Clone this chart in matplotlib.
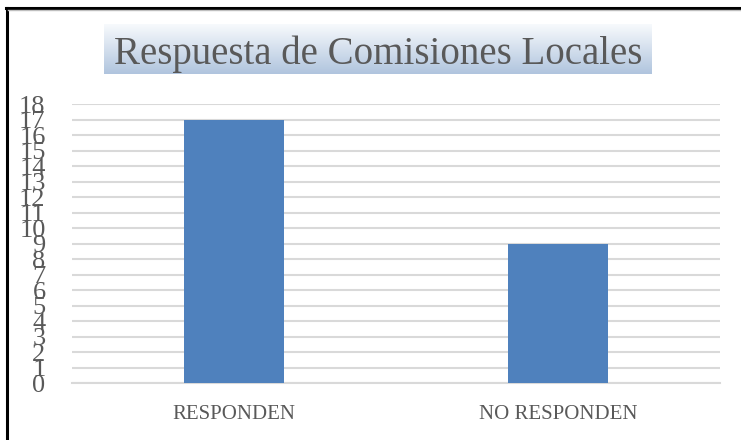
import matplotlib
matplotlib.use("Agg")
import matplotlib.pyplot as plt
import numpy as np
from matplotlib.lines import Line2D

categories = ["RESPONDEN", "NO RESPONDEN"]
values = [17, 9]
yticks = list(range(0, 19))
title = "Respuesta de Comisiones Locales"

W, H = 741, 440
fig = plt.figure(figsize=(W / 100, H / 100), dpi=100)
fig.patch.set_facecolor("white")

# plot area: x 72..720, y 104..383 (pixels from top)
left, right, top, bottom = 72, 720, 104, 383
ax = fig.add_axes([left / W, 1 - bottom / H, (right - left) / W, (bottom - top) / H])
x = np.arange(len(categories))
ax.bar(x, values, width=0.31, color="#4f81bd", zorder=3)
ax.set_xlim(-0.5, len(categories) - 0.5)
ax.set_ylim(0, 18)
ax.set_yticks(yticks)
ax.set_yticklabels([str(t) for t in yticks], fontfamily="Liberation Serif",
                   fontsize=19, color="#595959")
ax.set_xticks(x)
ax.set_xticklabels(categories, fontfamily="Liberation Serif", fontsize=15, color="#595959")
ax.tick_params(axis="both", length=0)
ax.tick_params(axis="y", pad=19)
ax.tick_params(axis="x", pad=16)
ax.grid(axis="y", color="#d9d9d9", linewidth=1.5, zorder=0)
for s in ["top", "right", "left"]:
    ax.spines[s].set_visible(False)
ax.spines["bottom"].set_color("#d9d9d9")
ax.spines["bottom"].set_linewidth(1.5)

# title box with gradient
tx0, tx1, ty0, ty1 = 104, 652, 24, 74
tax = fig.add_axes([tx0 / W, 1 - ty1 / H, (tx1 - tx0) / W, (ty1 - ty0) / H])
grad = np.linspace(0, 1, 100).reshape(-1, 1)
c_top = np.array([0.97, 0.98, 0.99])
c_bot = np.array([0.69, 0.77, 0.87])
img = c_top[None, None, :] * (1 - grad[:, :, None]) + c_bot[None, None, :] * grad[:, :, None]
tax.imshow(img, aspect="auto", extent=[0, 1, 0, 1])
tax.set_axis_off()
tax.text(0.5, 0.40, title, ha="center", va="center", fontfamily="Liberation Serif",
         fontsize=28, color="#595959")

# figure border lines (top and left)
fig.add_artist(Line2D([6.5 / W, 6.5 / W], [0, 1 - 8 / H], transform=fig.transFigure,
                      color="black", linewidth=2.2))
fig.add_artist(Line2D([6 / W, 1], [1 - 8 / H, 1 - 8 / H], transform=fig.transFigure,
                      color="black", linewidth=2.2))
fig.add_artist(Line2D([8 / W, 1], [1 - 10 / H, 1 - 10 / H], transform=fig.transFigure,
                      color="#bfbfbf", linewidth=1))

fig.savefig("out.png", dpi=100)
